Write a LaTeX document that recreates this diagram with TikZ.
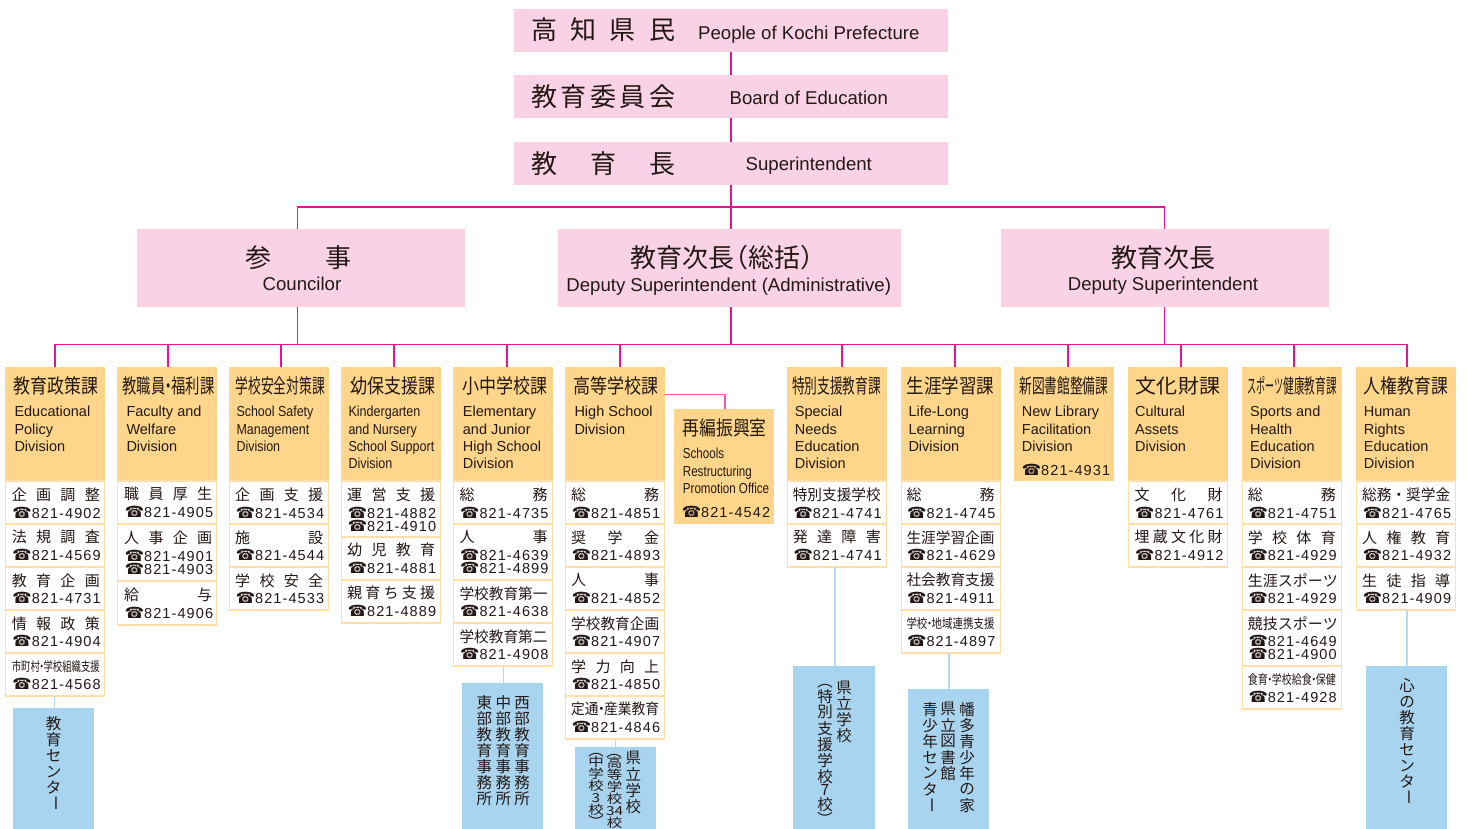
\documentclass[tikz,border=0pt]{standalone}
\usepackage{graphicx}
\usepackage{fontspec}
\setmainfont{Liberation Sans}
\newfontfamily\cjk{Noto Sans CJK JP}
\newfontfamily\enf{Liberation Sans}
\newfontfamily\numf[LetterSpace=7.5]{Liberation Sans}
\newfontfamily\telf{DejaVu Sans}
\definecolor{inkc}{HTML}{231815}
\definecolor{pinkc}{HTML}{F9D3E5}
\definecolor{orangec}{HTML}{FED68B}
\definecolor{edgec}{HTML}{FFE0A8}
\definecolor{bluec}{HTML}{A9D4F0}
\definecolor{bluel}{HTML}{B5DBF3}
\definecolor{magc}{HTML}{EB1290}
\definecolor{magl}{HTML}{F25AAE}
\newcommand\szz[1]{\fontsize{#1}{#1}\selectfont}
% spread characters over a width
\newcommand\spr[2]{\hbox to #1{\sprA#2\relax\unskip}}
\def\sprA#1{\ifx\relax#1\else#1\hfil\expandafter\sprA\fi}
\newcommand\fitw[2]{\resizebox{#1}{\height}{#2}}
\newcommand\dt{\kern-.3em ・\kern-.3em}
\newcommand\SL[1]{\spr{88pt}{#1}}
\newcommand\FL[1]{\fitw{88pt}{#1}}
\newcommand\tel[1]{\hbox to 86pt{{\telf\szz{15.5}☎}\hfil{\numf\szz{14.5}#1}}}
\newcommand\EL[1]{\hbox{#1}}
% vertical columns
\newdimen\vp \vp=16pt
\def\VCw#1{#1}
\def\VCa#1{\ifx\relax#1\else\vbox to\vp{\vss\hbox to 0pt{\hss\VCw{#1}\hss}\vss}\expandafter\VCa\fi}
\newcommand\VS[1]{\VCa#1\relax}
\newcommand\VHP[3]{\vbox to #1{\kern#2\hbox to 0pt{\hss\smash{\rotatebox[origin=c]{-90}{#3}}\hss}\vss}}
\newcommand\VI[2]{\vbox to #1{\vss\hbox to 0pt{\hss\VCw{#2}\hss}\vss}}
\newcommand\vbarc{\rotatebox[origin=c]{-90}{ー}}
\newcommand\vcolumn[4]{\node[vtext] (#1) at (#2,#3) {\vbox{\offinterlineskip #4}};}
\tikzset{
  x=1pt,y=-1pt,
  mag/.style={draw=magc,line width=1.8pt},
  magthin/.style={draw=magl,line width=1.4pt},
  bluelink/.style={draw=bluel,line width=1.6pt},
  pinkbox/.style={fill=pinkc,inner sep=0pt,outer sep=0pt},
  deptbox/.style={fill=orangec,inner sep=0pt,outer sep=0pt,minimum width=100pt},
  secbox/.style={fill=white,draw=edgec,line width=1.3pt,inner sep=0pt,outer sep=0pt,minimum width=98.7pt},
  bluebox/.style={fill=bluec,inner sep=0pt,outer sep=0pt},
  titletext/.style={inner sep=0pt,font=\cjk\szz{20},text=inkc},
  entext/.style={inner sep=0pt,anchor=base west,font=\enf\szz{14.5},text=inkc},
  seclab/.style={inner sep=0pt,anchor=west,font=\cjk\szz{15},text=inkc},
  telnode/.style={inner sep=0pt,anchor=base west,text=inkc},
  bigjp/.style={inner sep=0pt,anchor=west,font=\cjk\szz{26},text=inkc},
  bigen/.style={inner sep=0pt,font=\enf\szz{18.6},text=inkc},
  vtext/.style={inner sep=0pt,anchor=north,font=\cjk\szz{15.5},text=inkc},
}
% [scale]{name}{x}{top}{bot}{title cx}{title w}{title}{lines}
\newcommand\dept[9][1]{%
  \node[deptbox,minimum height={(#5)*1pt-(#4)*1pt}] (#2) at ({#3+50},{(#4+#5)/2}) {};
  \node[titletext] (#2t) at (#6,{#4+18.7}) {\fitw{#7pt}{#8}};
  \node[entext] (#2e) at (\ex,{#4+49.7}) {\scalebox{#1}[1]{\vtop{\baselineskip=17.33pt #9}}};
}
% [second phone]{name}{top}{bot}{label}{phone}
\def\toprow{.9}
\newcommand\sect[5][]{%
  \node[secbox,minimum height={(#4)*1pt-(#3)*1pt}] (#2) at ({\bx+50},{(#3+#4)/2}) {};
  \pgfmathsetmacro\tdy{ifthenelse(#3==481,\toprow,0)}
  \node[seclab] (#2l) at ({\tx-.7},{#3+13.3+\tdy}) {#5};
  \if\relax\detokenize{#1}\relax
    \node[telnode] (#2p) at (\tx,{#4-6.5+\tdy}) {\tel{\phonenum}};
  \else
    \node[telnode] (#2p) at (\tx,{#4-19.8+\tdy}) {\tel{\phonenum}};
    \node[telnode] (#2q) at (\tx,{#4-6.3+\tdy}) {\tel{#1}};
  \fi
}
\newcommand\pn[1]{\def\phonenum{#1}}
\begin{document}
\begin{tikzpicture}
\useasboundingbox (0,0) rectangle (1467,829);
\fill[white] (0,0) rectangle (1467,829);
% top boxes
\node[pinkbox,minimum width=434pt,minimum height=43pt] (t1) at (731,30.5) {};
\node[pinkbox,minimum width=434pt,minimum height=43pt] (t2) at (731,96.5) {};
\node[pinkbox,minimum width=434pt,minimum height=43pt] (t3) at (731,163.5) {};
\node[bigjp] (t1j) at (531,30) {\spr{144pt}{高知県民}};
\node[bigjp] (t2j) at (531,97) {\spr{144pt}{教育委員会}};
\node[bigjp] (t3j) at (531,164) {\spr{144pt}{教育長}};
\node[bigen] (t1e) at (808.8,35) {People of Kochi Prefecture};
\node[bigen] (t2e) at (808.8,98) {Board of Education};
\node[bigen] (t3e) at (808.8,165.5) {Superintendent};
% middle boxes
\node[pinkbox,minimum width=328pt,minimum height=78pt] (m1) at (301,268) {};
\node[pinkbox,minimum width=343pt,minimum height=78pt] (m2) at (729.5,268) {};
\node[pinkbox,minimum width=328pt,minimum height=78pt] (m3) at (1165,268) {};
\node[bigjp] (m1j) at (245,258) {\spr{106pt}{参事}};
\node[bigjp] (m2j) at (630,258) {教育次長\kern-12pt（総括）};
\node[bigjp] (m3j) at (1111,258) {教育次長};
\node[bigen] (m1e) at (302,284) {Councilor};
\node[bigen] (m2e) at (728.7,286.5) {Deputy Superintendent (Administrative)};
\node[bigen] (m3e) at (1163,285.5) {Deputy Superintendent};
% buses
\coordinate (bus1) at (730.7,206.9);
\coordinate (bus2) at (730.7,344.5);
\draw[mag] (t1.south) -- (t2.north);
\draw[mag] (t2.south) -- (t3.north);
\draw[mag] (t3.south) -- (t3.south |- m2.north);
\draw[mag] ([xshift=-3.5pt]m1.north) |- (bus1) -| ([xshift=-.5pt]m3.north);
\draw[mag] ([xshift=-3.5pt]m1.south) |- (bus2);
\draw[mag] ([xshift=1.2pt]m2.south) -- (bus2);
\draw[mag] ([xshift=-.5pt]m3.south) |- (bus2);
% column 1
\def\ex{14.3}\def\bx{5}\def\tx{12.3}
\dept{d1}{5}{367}{481}{56.3}{85}{教育政策課}{\EL{Educational}\EL{Policy}\EL{Division}}
\pn{821-4902}\sect{s1a}{481}{524}{\SL{企画調整}}
\pn{821-4569}\sect{s1b}{524}{567}{\SL{法規調査}}
\pn{821-4731}\sect{s1c}{567}{610}{\SL{教育企画}}
\pn{821-4904}\sect{s1d}{610}{653}{\SL{情報政策}}
\pn{821-4568}\sect{s1e}{653}{696}{\FL{\szz{13}市町村\dt 学校組織支援}}
% column 2
\def\ex{126.3}\def\bx{117}\def\tx{124.7}\def\toprow{-.4}
\dept{d2}{117}{367}{481}{168.5}{91.7}{教職員\dt 福利課}{\EL{Faculty and}\EL{Welfare}\EL{Division}}
\pn{821-4905}\sect{s2a}{481}{524}{\SL{職員厚生}}
\pn{821-4901}\sect[821-4903]{s2b}{524}{581}{\SL{人事企画}}
\pn{821-4906}\sect{s2c}{581}{625}{\SL{給与}}
% column 3
\def\ex{236.3}\def\bx{229}\def\tx{235.7}\def\toprow{.9}
\dept[.86]{d3}{229}{367}{481}{280.3}{89.3}{学校安全対策課}{\EL{School Safety}\EL{Management}\EL{Division}}
\pn{821-4534}\sect{s3a}{481}{524}{\SL{企画支援}}
\pn{821-4544}\sect{s3b}{524}{567}{\SL{施設}}
\pn{821-4533}\sect{s3c}{567}{610}{\SL{学校安全}}
% column 4
\def\ex{348.3}\def\bx{341}\def\tx{347.7}
\dept[.866]{d4}{341}{367}{481}{392.5}{85}{幼保支援課}{\EL{Kindergarten}\EL{and Nursery}\EL{School Support}\EL{Division}}
\pn{821-4882}\sect[821-4910]{s4a}{481}{537}{\SL{運営支援}}
\pn{821-4881}\sect{s4b}{537}{580}{\SL{幼児教育}}
\pn{821-4889}\sect{s4c}{580}{623}{\SL{親育ち支援}}
% column 5
\def\ex{462.7}\def\bx{453}\def\tx{460}
\dept{d5}{453}{367}{481}{504.8}{85}{小中学校課}{\EL{Elementary}\EL{and Junior}\EL{High School}\EL{Division}}
\pn{821-4735}\sect{s5a}{481}{524}{\SL{総務}}
\pn{821-4639}\sect[821-4899]{s5b}{524}{580}{\SL{人事}}
\pn{821-4638}\sect{s5c}{580}{623}{\FL{学校教育第一}}
\pn{821-4908}\sect{s5d}{623}{666}{\FL{学校教育第二}}
% column 6
\def\ex{574.3}\def\bx{565}\def\tx{571.7}
\dept{d6}{565}{367}{481}{616.3}{85.3}{高等学校課}{\EL{High School}\EL{Division}}
\pn{821-4851}\sect{s6a}{481}{524}{\SL{総務}}
\pn{821-4893}\sect{s6b}{524}{567}{\SL{奨学金}}
\pn{821-4852}\sect{s6c}{567}{610}{\SL{人事}}
\pn{821-4907}\sect{s6d}{610}{653}{\FL{学校教育企画}}
\pn{821-4850}\sect{s6e}{653}{696}{\SL{学力向上}}
\pn{821-4846}\sect{s6f}{696}{739}{\FL{定通\dt 産業教育}}
% office
\def\ex{682.7}
\dept[.8]{off}{674}{409}{524}{724.7}{84}{再編振興室}{\EL{Schools}\EL{Restructuring}\EL{Promotion Office}}
\node[telnode] (offp) at (681.7,517) {\tel{821-4542}};
% column 7
\def\ex{794.7}\def\bx{787}\def\tx{793.3}
\dept{d7}{787}{367}{481}{836.5}{89}{特別支援教育課}{\EL{Special}\EL{Needs}\EL{Education}\EL{Division}}
\pn{821-4741}\sect{s7a}{481}{524}{\FL{特別支援学校}}
\pn{821-4741}\sect{s7b}{524}{567}{\SL{発達障害}}
% column 8
\def\ex{908.3}\def\bx{901}\def\tx{907}
\dept{d8}{901}{367}{481}{950.5}{87.7}{生涯学習課}{\EL{Life-Long}\EL{Learning}\EL{Division}}
\pn{821-4745}\sect{s8a}{481}{524}{\SL{総務}}
\pn{821-4629}\sect{s8b}{524}{567}{\FL{生涯学習企画}}
\pn{821-4911}\sect{s8c}{567}{610}{\FL{社会教育支援}}
\pn{821-4897}\sect{s8d}{610}{653}{\FL{\szz{13}学校\dt 地域連携支援}}
% column 9
\def\ex{1021.7}
\dept{d9}{1014}{367}{481}{1063.8}{89}{新図書館整備課}{\EL{New Library}\EL{Facilitation}\EL{Division}}
\node[telnode] (d9p) at (1021.7,475) {\tel{821-4931}};
% column 10
\def\ex{1135}\def\bx{1128}\def\tx{1135}
\dept{d10}{1128}{367}{481}{1178}{84.3}{文化財課}{\EL{Cultural}\EL{Assets}\EL{Division}}
\pn{821-4761}\sect{s10a}{481}{524}{\SL{文化財}}
\pn{821-4912}\sect{s10b}{524}{567}{\SL{埋蔵文化財}}
% column 11
\def\ex{1250}\def\bx{1242}\def\tx{1248.3}
\dept{d11}{1242}{367}{481}{1292}{89.3}{\scalebox{.85}[1]{スポーツ}健康教育課}{\EL{Sports and}\EL{Health}\EL{Education}\EL{Division}}
\pn{821-4751}\sect{s11a}{481}{524}{\SL{総務}}
\pn{821-4929}\sect{s11b}{524}{567}{\SL{学校体育}}
\pn{821-4929}\sect{s11c}{567}{610}{\SL{生涯スポーツ}}
\pn{821-4649}\sect[821-4900]{s11d}{610}{666}{\SL{競技スポーツ}}
\pn{821-4928}\sect{s11e}{666}{709}{\FL{\szz{13}食育\dt 学校給食\dt 保健}}
% column 12
\def\ex{1363.7}\def\bx{1356}\def\tx{1362.7}
\dept{d12}{1356}{367}{481}{1406}{84.3}{人権教育課}{\EL{Human}\EL{Rights}\EL{Education}\EL{Division}}
\pn{821-4765}\sect{s12a}{481}{524}{\FL{総務・奨学金}}
\pn{821-4932}\sect{s12b}{524}{567}{\SL{人権教育}}
\pn{821-4909}\sect{s12c}{567}{610}{\SL{生徒指導}}
% department drops
\foreach \d/\o in {d1/0,d2/.7,d3/1.7,d4/3,d5/3.7,d6/5,d7/5,d8/4,d9/4,d10/3,d11/1.7,d12/.7}
  \draw[mag] ([xshift=\o pt]\d.north) |- (bus2);
\draw[magthin] ([yshift=29.3pt]d6.east) -| ([xshift=1pt]off.north);
% blue boxes
\node[bluebox,minimum width=81pt,minimum height=121pt] (b1) at (53.5,768.5) {};
\node[bluebox,minimum width=81pt,minimum height=146pt] (b5) at (502.5,756) {};
\node[bluebox,minimum width=81pt,minimum height=82pt] (b6) at (615.5,788) {};
\node[bluebox,minimum width=82pt,minimum height=163pt] (b7) at (834,747.5) {};
\node[bluebox,minimum width=81pt,minimum height=140pt] (b8) at (948.5,759) {};
\node[bluebox,minimum width=81pt,minimum height=163pt] (b12) at (1406.5,747.5) {};
\draw[bluelink] ([xshift=1pt]b1.north) -- ([xshift=1pt]b1.north |- s1e.south);
\draw[bluelink] ([xshift=1pt]b5.north) -- ([xshift=1pt]b5.north |- s5d.south);
\draw[bluelink] (b6.north) -- (b6.north |- s6f.south);
\draw[bluelink] ([xshift=1pt]b7.north) -- ([xshift=1pt]b7.north |- s7b.south);
\draw[bluelink] ([xshift=.5pt]b8.north) -- ([xshift=.5pt]b8.north |- s8d.south);
\draw[bluelink] ([xshift=.5pt]b12.north) -- ([xshift=.5pt]b12.north |- s12c.south);
% vertical texts
\vcolumn{v1}{53.5}{715.5}{\VS{教育センタ\vbarc}}
\vcolumn{v5a}{484.3}{694.5}{\VS{東部教育事務所}}
\vcolumn{v5b}{503.3}{694.5}{\VS{中部教育事務所}}
\vcolumn{v5c}{522}{694.5}{\VS{西部教育事務所}}
\vcolumn{v6a}{633.3}{750}{\VS{県立学校}}
\begin{scope}
\def\VCw#1{\scalebox{1}[.8]{#1}}
\vp=12pt
\vcolumn{v6b}{614.7}{752.2}{\VHP{4.5pt}{4.3pt}{（}\VS{高等学校{34}校}}
\vcolumn{v6c}{596}{751.5}{\VHP{4.5pt}{4.3pt}{（}\VS{中学校{3}校}\VHP{4.5pt}{12.1pt}{）}}
\end{scope}
\vcolumn{v7a}{844}{679.5}{\VS{県立学校}}
\vcolumn{v7b}{825}{681}{\VHP{7pt}{5.6pt}{（}\VS{特別支援学校}\VI{12pt}{7}\VS{校}\VHP{7pt}{13.1pt}{）}}
\vcolumn{v8a}{967}{701}{\VS{幡多青少年の家}}
\vcolumn{v8b}{948}{701}{\VS{県立図書館}}
\vcolumn{v8c}{930}{701}{\VS{青少年センタ\vbarc}}
\vcolumn{v12}{1407}{677.5}{\VS{心の教育センタ\vbarc}}
\end{tikzpicture}
\end{document}
